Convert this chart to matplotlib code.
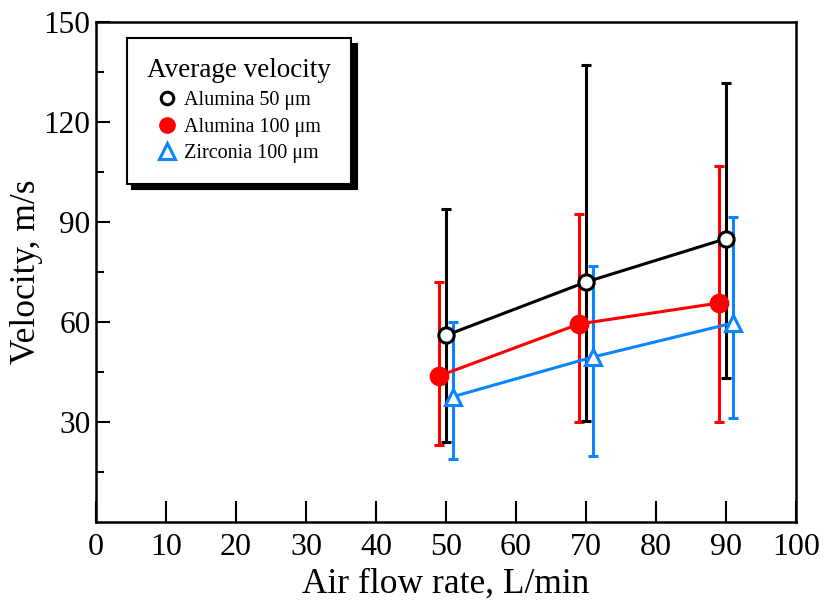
import numpy as np
import matplotlib.pyplot as plt
from matplotlib.lines import Line2D

plt.rcParams['font.family'] = ['Liberation Serif', 'DejaVu Serif']

# data
flow = np.array([50, 70, 90])
al50 = [56, 72, 85]
al50_lo = [24, 30.3, 43.2]
al50_hi = [94, 137, 131.7]
al100 = [43.8, 59.4, 65.7]
al100_lo = [23.1, 30.1, 30.1]
al100_hi = [72.1, 92.4, 106.8]
zr100 = [37.6, 49.5, 59.7]
zr100_lo = [19.0, 19.8, 31.2]
zr100_hi = [60.1, 76.9, 91.6]

blue = '#0a84ff'
blue_cap = '#5a9fe0'

fig = plt.figure(figsize=(8.24, 6.03), dpi=100)
ax = fig.add_axes([96/824, 81/603, 700/824, 500/603])

def draw(x, y, lo, hi, color, capcolor, marker, face, ms):
    y = np.array(y)
    err = [y - np.array(lo), np.array(hi) - y]
    eb = ax.errorbar(x, y, yerr=err, fmt='none', ecolor=color, elinewidth=2.2,
                     capsize=3.8, capthick=2.2, zorder=2)
    for c in eb[1]:
        c.set_color(capcolor)
    ax.plot(x, y, color=color, lw=2.2, marker=marker, ms=ms, mfc=face,
            mec=color, mew=2.2, zorder=3)

draw(flow - 1, al100, al100_lo, al100_hi, 'red', 'red', 'o', 'red', 12)
draw(flow, al50, al50_lo, al50_hi, 'black', 'black', 'o', 'white', 11)
draw(flow + 1, zr100, zr100_lo, zr100_hi, blue, blue_cap, '^', 'white', 12)

ax.set_xlim(0, 100)
ax.set_ylim(0, 150)
ax.set_xticks(np.arange(0, 101, 10))
ax.set_yticks([30, 60, 90, 120, 150])
ax.set_yticks(np.arange(15, 150, 30), minor=True)
ax.tick_params(axis='x', direction='in', length=15, width=1.5, labelsize=23, pad=8)
ax.tick_params(axis='y', which='major', direction='in', length=10, width=1.5,
               labelsize=22.5, pad=4)
ax.tick_params(axis='y', which='minor', direction='in', length=6, width=1.5)
for s in ax.spines.values():
    s.set_linewidth(1.8)

ax.set_xlabel('Air flow rate, L/min', fontsize=25.5, labelpad=4)
ax.set_ylabel('Velocity, m/s', fontsize=25.5)
ax.yaxis.set_label_coords(-0.075, 0.5)

handles = [
    Line2D([], [], ls='none', marker='o', ms=9, mfc='white', mec='black', mew=2.2),
    Line2D([], [], ls='none', marker='o', ms=11, mfc='red', mec='red'),
    Line2D([], [], ls='none', marker='^', ms=11, mfc='white', mec=blue, mew=2.2),
]
labels = ['Alumina 50 μm', 'Alumina 100 μm', 'Zirconia 100 μm']
leg = ax.legend(handles, labels, title='Average velocity', loc='upper left',
                bbox_to_anchor=(0.044, 0.968), borderaxespad=0, fontsize=14.5,
                title_fontsize=19.5, frameon=True, fancybox=False, edgecolor='black',
                shadow={'color': 'black', 'alpha': 1, 'ox': 4, 'oy': -4},
                handletextpad=0.3, labelspacing=0.38, borderpad=1.0,
                handlelength=1.0, alignment='center')
leg.get_frame().set_linewidth(1.5)

fig.savefig('out.png', dpi=100)
